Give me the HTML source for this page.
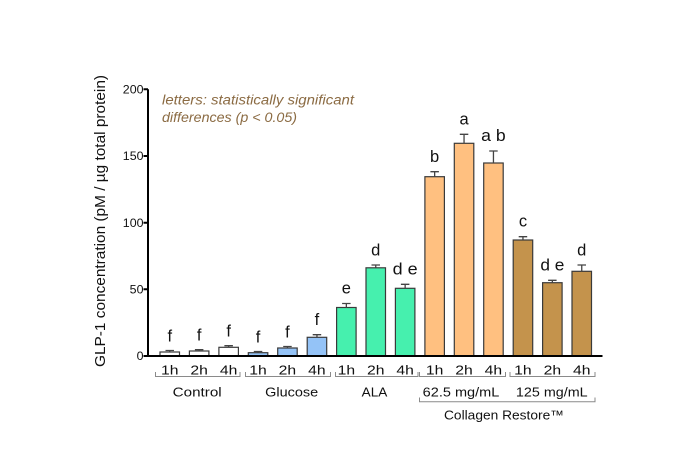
<!DOCTYPE html>
<html><head><meta charset="utf-8"><style>
html,body{margin:0;padding:0;background:#fff;}
svg{display:block;}
text{font-family:"Liberation Sans",Arial,sans-serif;}
</style></head><body>
<svg width="675" height="450" viewBox="0 0 675 450" xmlns="http://www.w3.org/2000/svg">
<rect width="675" height="450" fill="#fff"/>

<!-- y axis label -->
<text transform="translate(105,221) rotate(-90)" font-size="14.5" text-anchor="middle" textLength="292" lengthAdjust="spacingAndGlyphs" fill="#111">GLP-1 concentration (pM / µg total protein)</text>

<!-- y tick labels -->
<g font-size="11.5" fill="#111" text-anchor="end">
<text x="143.5" y="93.5" textLength="20.7" lengthAdjust="spacingAndGlyphs">200</text>
<text x="143.5" y="160.2" textLength="20.7" lengthAdjust="spacingAndGlyphs">150</text>
<text x="143.5" y="226.8" textLength="20.7" lengthAdjust="spacingAndGlyphs">100</text>
<text x="143.5" y="293.5" textLength="13.8" lengthAdjust="spacingAndGlyphs">50</text>
<text x="143.5" y="360.2" textLength="6.9" lengthAdjust="spacingAndGlyphs">0</text>
</g>

<!-- annotation -->
<g font-size="13.5" font-style="italic" fill="#8B6B43">
<text x="162" y="104.5" textLength="192" lengthAdjust="spacingAndGlyphs">letters: statistically significant</text>
<text x="162" y="122" textLength="135" lengthAdjust="spacingAndGlyphs">differences (p &lt; 0.05)</text>
</g>

<!-- bars -->
<g stroke="#3a3a3a" stroke-width="1.2">
<rect x="160" y="352" width="19.5" height="4" fill="#ffffff"/>
<rect x="189.4" y="351" width="19.5" height="5" fill="#ffffff"/>
<rect x="218.9" y="347.3" width="19.5" height="8.7" fill="#ffffff"/>
<rect x="248.3" y="352.7" width="19.5" height="3.3" fill="#94C3F7"/>
<rect x="277.7" y="348" width="19.5" height="8" fill="#94C3F7"/>
<rect x="307.2" y="337.3" width="19.5" height="18.7" fill="#94C3F7"/>
<rect x="336.6" y="307.5" width="19.5" height="48.5" fill="#46F0AE"/>
<rect x="366" y="267.8" width="19.5" height="88.2" fill="#46F0AE"/>
<rect x="395.4" y="288.3" width="19.5" height="67.7" fill="#46F0AE"/>
<rect x="424.9" y="176.7" width="19.5" height="179.3" fill="#FFC080"/>
<rect x="454.3" y="143.3" width="19.5" height="212.7" fill="#FFC080"/>
<rect x="483.7" y="163" width="19.5" height="193" fill="#FFC080"/>
<rect x="513.2" y="240" width="19.5" height="116" fill="#C4934C"/>
<rect x="542.6" y="282.7" width="19.5" height="73.3" fill="#C4934C"/>
<rect x="572" y="271.3" width="19.5" height="84.7" fill="#C4934C"/>
</g>

<!-- error bars -->
<g stroke="#444" stroke-width="1.3" fill="none">
<path d="M169.75 352V350.5M165.5 350.5H174"/>
<path d="M199.15 351V349.7M194.9 349.7H203.4"/>
<path d="M228.65 347.3V345.7M224.4 345.7H232.9"/>
<path d="M258.05 352.7V351.5M253.8 351.5H262.3"/>
<path d="M287.45 348V346.5M283.2 346.5H291.7"/>
<path d="M316.95 337.3V334.7M312.7 334.7H321.2"/>
<path d="M346.35 307.5V303.5M342.1 303.5H350.6"/>
<path d="M375.75 267.8V265M371.5 265H380"/>
<path d="M405.15 288.3V284.3M400.9 284.3H409.4"/>
<path d="M434.65 176.7V171.7M430.4 171.7H438.9"/>
<path d="M464.05 143.3V134.3M459.8 134.3H468.3"/>
<path d="M493.45 163V151M489.2 151H497.7"/>
<path d="M522.95 240V236.7M518.7 236.7H527.2"/>
<path d="M552.35 282.7V280.3M548.1 280.3H556.6"/>
<path d="M581.75 271.3V265M577.5 265H586"/>
</g>

<!-- significance letters -->
<g font-size="16.5" fill="#111" text-anchor="middle">
<text x="169.75" y="341.5">f</text>
<text x="199.15" y="340.7">f</text>
<text x="228.65" y="336.7">f</text>
<text x="258.05" y="342.5">f</text>
<text x="287.45" y="337.5">f</text>
<text x="316.95" y="325.2">f</text>
<text x="346.35" y="293.5">e</text>
<text x="375.75" y="255.5">d</text>
<text x="405.15" y="274.3" textLength="25" lengthAdjust="spacingAndGlyphs">d e</text>
<text x="434.65" y="162.2">b</text>
<text x="464.05" y="124.3">a</text>
<text x="493.45" y="141" textLength="24.5" lengthAdjust="spacingAndGlyphs">a b</text>
<text x="522.95" y="226.7">c</text>
<text x="552.35" y="270.3" textLength="24" lengthAdjust="spacingAndGlyphs">d e</text>
<text x="581.75" y="255.5">d</text>
</g>

<!-- axes -->
<g stroke="#000" stroke-width="2" fill="none">
<path d="M148 89.3V357"/>
<path d="M147 356H602.5"/>
<path d="M143.5 89.3H148M143.5 156H148M143.5 222.7H148M143.5 289.3H148M143.5 356H148"/>
</g>

<!-- x tick labels -->
<g font-size="13" fill="#111" text-anchor="middle">
<text x="169.75" y="374.3" textLength="17.5" lengthAdjust="spacingAndGlyphs">1h</text>
<text x="199.15" y="374.3" textLength="17.5" lengthAdjust="spacingAndGlyphs">2h</text>
<text x="228.65" y="374.3" textLength="17.5" lengthAdjust="spacingAndGlyphs">4h</text>
<text x="258.05" y="374.3" textLength="17.5" lengthAdjust="spacingAndGlyphs">1h</text>
<text x="287.45" y="374.3" textLength="17.5" lengthAdjust="spacingAndGlyphs">2h</text>
<text x="316.95" y="374.3" textLength="17.5" lengthAdjust="spacingAndGlyphs">4h</text>
<text x="346.35" y="374.3" textLength="17.5" lengthAdjust="spacingAndGlyphs">1h</text>
<text x="375.75" y="374.3" textLength="17.5" lengthAdjust="spacingAndGlyphs">2h</text>
<text x="405.15" y="374.3" textLength="17.5" lengthAdjust="spacingAndGlyphs">4h</text>
<text x="434.65" y="374.3" textLength="17.5" lengthAdjust="spacingAndGlyphs">1h</text>
<text x="464.05" y="374.3" textLength="17.5" lengthAdjust="spacingAndGlyphs">2h</text>
<text x="493.45" y="374.3" textLength="17.5" lengthAdjust="spacingAndGlyphs">4h</text>
<text x="522.95" y="374.3" textLength="17.5" lengthAdjust="spacingAndGlyphs">1h</text>
<text x="552.35" y="374.3" textLength="17.5" lengthAdjust="spacingAndGlyphs">2h</text>
<text x="581.75" y="374.3" textLength="17.5" lengthAdjust="spacingAndGlyphs">4h</text>
</g>

<!-- brackets -->
<g stroke="#8a8a8a" stroke-width="1" fill="none">
<path d="M155.5 372V376.5H240V372"/>
<path d="M245.5 372V376.5H330.5V372"/>
<path d="M335.5 372V376.5H418V372"/>
<path d="M419.5 372V376.5H505.5V372"/>
<path d="M510 372V376.5H595V372"/>
<path d="M419.5 397.5V401.7H595V397.5"/>
</g>

<!-- group labels -->
<g font-size="12.8" fill="#111" text-anchor="middle">
<text x="197.2" y="396.7" textLength="49" lengthAdjust="spacingAndGlyphs">Control</text>
<text x="291.7" y="396.7" textLength="53" lengthAdjust="spacingAndGlyphs">Glucose</text>
<text x="374.5" y="396.7" textLength="25.7" lengthAdjust="spacingAndGlyphs">ALA</text>
<text x="461" y="396.7" textLength="76.6" lengthAdjust="spacingAndGlyphs">62.5 mg/mL</text>
<text x="551.8" y="396.7" textLength="71.7" lengthAdjust="spacingAndGlyphs">125 mg/mL</text>
<text x="504" y="419.5" textLength="120" lengthAdjust="spacingAndGlyphs">Collagen Restore™</text>
</g>
</svg>
</body></html>
